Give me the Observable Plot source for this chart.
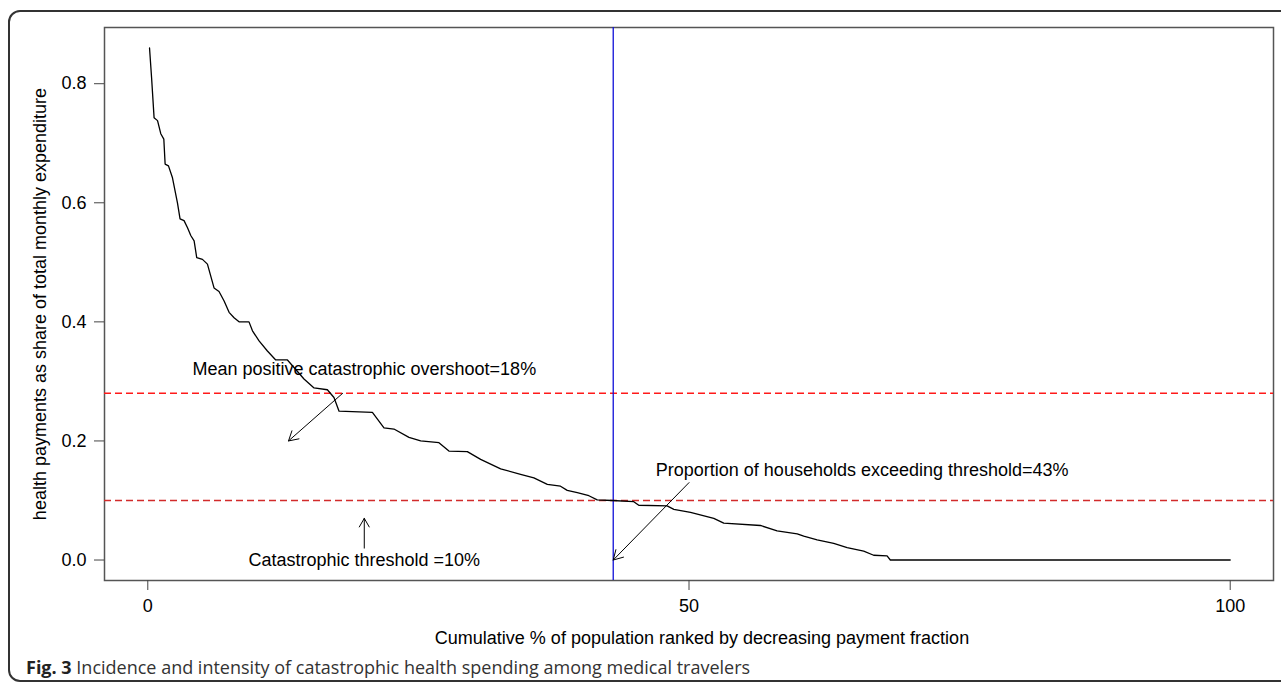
<!DOCTYPE html>
<html>
<head>
<meta charset="utf-8">
<script src="https://cdn.jsdelivr.net/npm/d3@7"></script>
<script src="https://cdn.jsdelivr.net/npm/@observablehq/plot@0.6"></script>
<style>
  body { margin: 0; background: #fff; }
  #wrap { position: relative; width: 1281px; height: 686px; overflow: hidden; background: #fff; }
  #border { position: absolute; left: 8px; top: 10px; width: 1300px; height: 672px; border: 2px solid #333; border-radius: 12px; box-sizing: border-box; }
  #chart { position: absolute; left: 0; top: 0; }
  #caption { position: absolute; left: 26px; top: 655px; font-family: "Open Sans", "Noto Sans", sans-serif; font-size: 18px; color: #333; white-space: nowrap; }
  #caption b { font-weight: 700; color: #222; }
</style>
</head>
<body>
<div id="wrap">
  <div id="border"></div>
  <div id="chart"></div>
  <div id="caption"><b>Fig. 3</b> Incidence and intensity of catastrophic health spending among medical travelers</div>
</div>
<script>
// Cumulative % of population (x) and health payment share (y)
const popPct = [0.16,0.35,0.58,0.9,1.2,1.48,1.6,1.91,2.28,2.74,2.98,3.35,3.67,3.97,4.28,4.52,5.05,5.51,6.12,6.58,7.05,7.51,7.97,8.43,9.35,9.67,10.28,11.05,11.82,12.9,13.67,14.43,15.36,16.59,17.2,17.67,20.75,21.82,22.74,24.13,25.21,26.9,27.82,29.52,30.75,32.6,34.44,35.67,36.91,38.13,38.75,39.68,40.75,41.52,42.9,44.9,45.36,47.98,48.6,50.14,52.29,53.21,56.6,58.14,60.0,60.6,61.84,63.37,64.61,66.14,67.06,68.3,68.6,100];
const payShare = [0.86,0.81,0.743,0.738,0.716,0.707,0.665,0.662,0.642,0.600,0.573,0.570,0.558,0.545,0.536,0.508,0.505,0.497,0.457,0.451,0.435,0.416,0.407,0.400,0.400,0.385,0.368,0.351,0.336,0.336,0.320,0.304,0.289,0.286,0.273,0.250,0.248,0.222,0.220,0.206,0.200,0.197,0.183,0.182,0.169,0.153,0.144,0.138,0.127,0.124,0.117,0.113,0.108,0.101,0.100,0.098,0.092,0.091,0.085,0.080,0.070,0.062,0.058,0.049,0.044,0.040,0.034,0.028,0.021,0.015,0.008,0.007,0.0,0.0];

// Reference lines
const thresholdLine = [0.10];      // catastrophic threshold
const overshootLine = [0.28];      // threshold + mean positive overshoot
const exceedPct = [43];            // proportion exceeding threshold

// Annotations
const noteText = ["Mean positive catastrophic overshoot=18%", "Catastrophic threshold =10%", "Proportion of households exceeding threshold=43%"];
const noteX = [20, 20, 66];
const noteY = [0.32, 0.0, 0.15];
const arrowX1 = [18, 20, 50];
const arrowY1 = [0.28, 0.02, 0.13];
const arrowX2 = [13, 20, 43];
const arrowY2 = [0.20, 0.07, 0.0];

// Axes
const xTicks = [0, 50, 100];
const yTicks = [0, 0.2, 0.4, 0.6, 0.8];
const xLabel = "Cumulative % of population ranked by decreasing payment fraction";
const yLabel = "health payments as share of total monthly expenditure";

const curve = popPct.map((x, i) => ({x, y: payShare[i]}));
const notes = noteText.map((t, i) => ({t, x: noteX[i], y: noteY[i]}));
const arrows = arrowX1.map((x1, i) => ({x1, y1: arrowY1[i], x2: arrowX2[i], y2: arrowY2[i]}));

const chart = Plot.plot({
  width: 1281,
  height: 655,
  marginLeft: 104,
  marginRight: 8,
  marginTop: 27,
  marginBottom: 75,
  style: { fontFamily: "'Liberation Sans', Arial, sans-serif", fontSize: "18px", color: "black", background: "transparent" },
  x: { domain: [-4, 104] },
  y: { domain: [-0.0344, 0.8944] },
  marks: [
    Plot.frame({ stroke: "#555", strokeWidth: 1.5 }),
    Plot.axisX(xTicks, { tickSize: 10, tickPadding: 9, label: null, fontSize: 18, stroke: "#444", tickFormat: d => String(d) }),
    Plot.axisY(yTicks, { tickSize: 10, tickPadding: 8, label: null, fontSize: 18, stroke: "#444", tickFormat: d3.format(".1f") }),
    Plot.text([xLabel], { frameAnchor: "bottom", x: () => 51.2, text: d => d, dy: 58, lineAnchor: "middle", textAnchor: "middle", fontSize: 18, fill: "black" }),
    Plot.text([yLabel], { frameAnchor: "left", text: d => d, dx: -64, rotate: -90, lineAnchor: "middle", textAnchor: "middle", fontSize: 18, fill: "black" }),
    Plot.ruleY(overshootLine, { stroke: "#ff1a1a", strokeWidth: 1.4, strokeDasharray: "7,4" }),
    Plot.ruleY(thresholdLine, { stroke: "#d22b2b", strokeWidth: 1.4, strokeDasharray: "7,4" }),
    Plot.ruleX(exceedPct, { stroke: "#1010d8", strokeWidth: 1.3 }),
    Plot.line(curve, { x: "x", y: "y", stroke: "black", strokeWidth: 1.3 }),
    Plot.arrow(arrows, { x1: "x1", y1: "y1", x2: "x2", y2: "y2", stroke: "black", strokeWidth: 1, headLength: 16, headAngle: 60 }),
    Plot.text(notes, { x: "x", y: "y", text: "t", fontSize: 18, fill: "black", textAnchor: "middle", lineAnchor: "middle" })
  ]
});
document.getElementById("chart").appendChild(chart);
</script>
</body>
</html>
